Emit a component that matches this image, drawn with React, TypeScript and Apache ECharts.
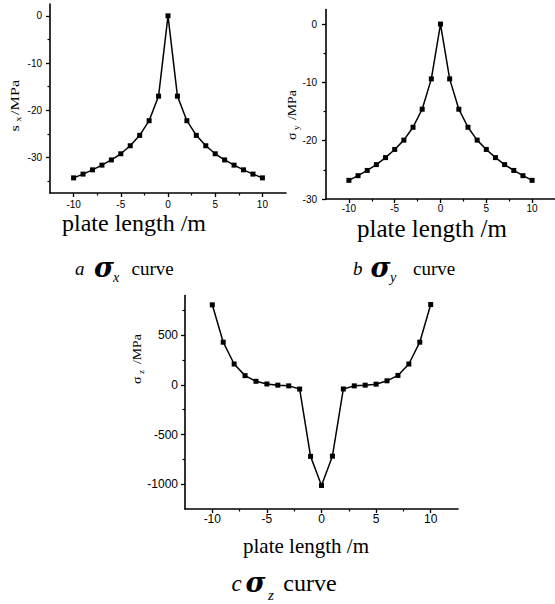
import React, { useEffect, useRef } from "react";
import * as echarts from "echarts";

// ---- data ----
const plateLength = [-10, -9, -8, -7, -6, -5, -4, -3, -2, -1, 0, 1, 2, 3, 4, 5, 6, 7, 8, 9, 10];
const sigmaX = [-34.3, -33.5, -32.6, -31.6, -30.5, -29.2, -27.5, -25.3, -22.2, -17.0, 0, -17.0, -22.2, -25.3, -27.5, -29.2, -30.5, -31.6, -32.6, -33.5, -34.3];
const sigmaY = [-26.8, -26.0, -25.1, -24.1, -22.9, -21.5, -19.9, -17.7, -14.6, -9.4, 0, -9.4, -14.6, -17.7, -19.9, -21.5, -22.9, -24.1, -25.1, -26.0, -26.8];
const sigmaZ = [806, 430, 210, 93, 36, 9, -3, -10, -42, -720, -1013, -718, -41, -10, -3, 7, 41, 95, 210, 430, 809];

const xMajorTicks = [-10, -5, 0, 5, 10];
const xMinorTicks = [-7.5, -2.5, 2.5, 7.5];
const yMajorA = [-30, -20, -10, 0];
const yMinorA = [-35, -25, -15, -5];
const yMajorB = [-30, -20, -10, 0];
const yMinorB = [-25, -15, -5];
const yMajorC = [-1000, -500, 0, 500];
const yMinorC = [-750, -250, 250, 750];

const SERIF = "'Liberation Serif', 'Times New Roman', serif";
const SANS = "'Liberation Sans', Arial, sans-serif";
const SIGMA_FONT = "'DejaVu Serif', 'Liberation Serif', serif";

function axisPair(dim: "x" | "y", gridIndex: number, min: number, max: number, major: number[], minor: number[], labelSize: number, margin: number) {
  const main: any = {
    type: "value",
    gridIndex,
    min,
    max,
    position: dim === "x" ? "bottom" : "left",
    axisLine: { show: true, onZero: false, lineStyle: { color: "#000", width: 1.6 } },
    axisTick: { show: true, inside: false, length: 4, customValues: major, lineStyle: { color: "#000", width: 1.3 } },
    axisLabel: {
      show: true,
      customValues: major,
      margin,
      fontFamily: SANS,
      fontSize: labelSize,
      color: "#000",
      formatter: (v: number) => String(v),
    },
    splitLine: { show: false },
  };
  const sub: any = {
    type: "value",
    gridIndex,
    min,
    max,
    position: dim === "x" ? "bottom" : "left",
    axisLine: { show: false, onZero: false },
    axisTick: { show: true, inside: false, length: 2.5, customValues: minor, lineStyle: { color: "#000", width: 1.2 } },
    axisLabel: { show: false },
    splitLine: { show: false },
  };
  return [main, sub];
}

function txt(x: number, baseline: number, text: string, fs: number, opts: any = {}) {
  return {
    type: "text",
    x,
    y: baseline - 0.34 * fs,
    silent: true,
    style: {
      text,
      fontSize: fs,
      fontFamily: opts.family || SERIF,
      fontStyle: opts.italic ? "italic" : "normal",
      fontWeight: opts.bold ? "bold" : "normal",
      fill: "#000",
      align: opts.align || "left",
      verticalAlign: "middle",
    },
  };
}

function rotatedName(x: number, y: number, scale: number, sym: string, sub: string, subAt: number, restAt: number, fs: number) {
  return {
    type: "group",
    x,
    y,
    rotation: Math.PI / 2,
    scaleX: scale,
    silent: true,
    children: [
      txt(0, 0, sym, fs),
      txt(subAt, 3, sub, 8),
      txt(restAt, 0, "/MPa", fs),
    ],
  };
}

function lineSeries(xi: number, values: number[]) {
  return {
    type: "line",
    xAxisIndex: xi,
    yAxisIndex: xi,
    data: plateLength.map((x, i) => [x, values[i]]),
    symbol: "rect",
    symbolSize: 5,
    showSymbol: true,
    lineStyle: { color: "#000", width: 1.5 },
    itemStyle: { color: "#000" },
    silent: true,
  };
}

export default function App() {
  const ref = useRef<HTMLDivElement>(null);
  useEffect(() => {
    if (!ref.current) return;
    const chart = echarts.init(ref.current, undefined, { renderer: "svg" });
    const xa = axisPair("x", 0, -12.5, 12.5, xMajorTicks, xMinorTicks, 10, 6);
    const ya = axisPair("y", 0, -37.5, 2.5, yMajorA, yMinorA, 10, 8);
    const xb = axisPair("x", 1, -12.5, 12.5, xMajorTicks, xMinorTicks, 10, 4);
    const yb = axisPair("y", 1, -30, 2.5, yMajorB, yMinorB, 10, 9);
    const xc = axisPair("x", 2, -12.5, 12.5, xMajorTicks, xMinorTicks, 12, 4);
    const yc = axisPair("y", 2, -1250, 900, yMajorC, yMinorC, 12, 7);
    chart.setOption({
      animation: false,
      backgroundColor: "#fff",
      grid: [
        { left: 50, top: 4, width: 236, height: 189, containLabel: false },
        { left: 326, top: 9.5, width: 235, height: 189.5, containLabel: false },
        { left: 185, top: 295.5, width: 273, height: 213.5, containLabel: false },
      ],
      xAxis: [...xa, ...xb, ...xc],
      yAxis: [...ya, ...yb, ...yc],
      series: [lineSeries(0, sigmaX), lineSeries(2, sigmaY), lineSeries(4, sigmaZ)],
      graphic: [
        // axis titles
        txt(134, 231, "plate length /m", 24, { align: "center" }),
        txt(432, 237, "plate length /m", 25, { align: "center" }),
        txt(306, 553, "plate length /m", 21, { align: "center" }),
        // y axis names
        rotatedName(18.5, 131.5, 1.3, "s", "x", 7.5, 12.7, 12.5),
        rotatedName(295.5, 140, 1.15, "σ", "y", 8.7, 17.4, 12),
        rotatedName(141, 384, 1.15, "σ", "z", 8.7, 17.4, 12),
        // captions
        txt(75, 275, "a", 19, { italic: true }),
        txt(94, 276.5, "σ", 27, { italic: true, bold: true, family: SIGMA_FONT }),
        txt(113, 282, "x", 14, { italic: true }),
        txt(131.5, 275, "curve", 19),
        txt(353, 275, "b", 19, { italic: true }),
        txt(370.5, 276.5, "σ", 27, { italic: true, bold: true, family: SIGMA_FONT }),
        txt(390, 282, "y", 14, { italic: true }),
        txt(413, 275, "curve", 19),
        txt(231.5, 591.5, "c", 23, { italic: true }),
        txt(245.5, 592, "σ", 27, { italic: true, bold: true, family: SIGMA_FONT }),
        txt(268, 600, "z", 15, { italic: true }),
        txt(283.3, 591.5, "curve", 24),
      ],
    });
    return () => chart.dispose();
  }, []);
  return (
    <div
      ref={ref}
      style={{ position: "absolute", left: 0, top: 0, width: 555, height: 604, background: "#fff" }}
    />
  );
}
